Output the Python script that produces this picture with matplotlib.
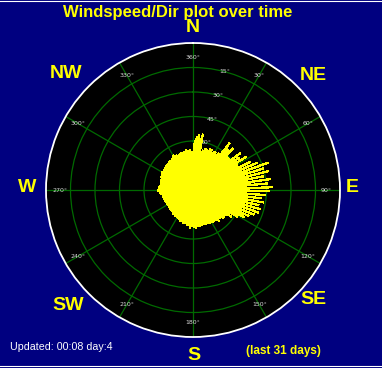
import numpy as np
import matplotlib.pyplot as plt

# wind readings, direction in degrees (from N, clockwise) and speed
wind_dir = [0, 3, 6, 9, 12, 15, 18, 21, 24, 27, 30, 33,
            36, 39, 42, 45, 48, 51, 54, 57, 60, 63, 66, 69,
            72, 75, 78, 81, 84, 87, 90, 93, 96, 99, 102, 105,
            108, 111, 114, 117, 120, 123, 126, 129, 132, 135, 138, 141,
            144, 147, 150, 153, 156, 159, 162, 165, 168, 171, 174, 177,
            180, 183, 186, 189, 192, 195, 198, 201, 204, 207, 210, 213,
            216, 219, 222, 225, 228, 231, 234, 237, 240, 243, 246, 249,
            252, 255, 258, 261, 264, 267, 270, 273, 276, 279, 282, 285,
            288, 291, 294, 297, 300, 303, 306, 309, 312, 315, 318, 321,
            324, 327, 330, 333, 336, 339, 342, 345, 348, 351, 354, 357]
wind_speed = [7.8, 8.0, 7.6, 8.2, 7.9, 8.4, 8.8, 8.3, 9.1, 8.6, 9.0, 8.7,
              9.2, 8.8, 9.6, 9.1, 9.8, 9.4, 10.2, 9.6, 10.4, 9.9, 10.8, 10.2,
              11.2, 10.6, 11.5, 10.9, 11.7, 11.0, 11.4, 10.9, 11.2, 10.6, 11.0, 10.4,
              10.6, 9.8, 10.1, 9.3, 9.4, 8.8, 8.6, 8.3, 8.4, 8.0, 7.9, 7.8,
              7.7, 7.8, 7.4, 7.6, 7.3, 7.5, 7.2, 7.4, 7.1, 7.5, 7.3, 7.6,
              7.2, 7.4, 7.0, 7.3, 6.9, 7.1, 6.7, 6.9, 6.5, 6.6, 6.3, 6.5,
              6.1, 6.4, 6.0, 6.2, 5.9, 6.1, 5.8, 6.0, 5.9, 6.1, 5.8, 6.2,
              6.0, 6.3, 6.1, 6.4, 6.6, 6.9, 6.6, 7.1, 6.8, 6.5, 6.7, 6.6,
              6.9, 6.8, 7.1, 6.9, 7.2, 7.0, 7.3, 7.1, 7.4, 7.2, 7.5, 7.6,
              7.4, 7.8, 7.6, 7.9, 7.7, 7.8, 8.0, 7.7, 8.1, 7.9, 8.2, 7.9]

# stronger gusts
gust_dir = [2, 4, 6, 8, 10, 38, 41, 44, 52, 55, 58, 64, 67, 70, 73, 76,
            79, 82, 85, 88, 91, 94, 97, 100, 103, 106, 109, 112, 115, 118,
            121, 125, 140, 175, 185, 270, 300, 330, 350]
gust_speed = [10.2, 11.0, 11.4, 10.6, 11.6, 12.2, 11.0, 11.8, 12.3, 11.5, 12.8,
              13.0, 14.2, 16.3, 15.0, 15.8, 14.6, 16.0, 15.2, 16.2, 15.6, 14.8,
              14.0, 14.6, 13.8, 14.3, 14.1, 13.4, 12.6, 11.8, 10.6, 9.6, 8.4,
              7.9, 7.8, 7.3, 7.4, 8.2, 8.4]

spoke_deg = [0, 30, 60, 90, 120, 150, 180, 210, 240, 270, 300, 330]
spoke_lbl = ['360°', '30°', '60°', '90°', '120°', '150°', '180°', '210°',
             '240°', '270°', '300°', '330°']
ring_r = [10, 15, 20, 25]
ring_lbl = ['60°', '45°', '30°', '15°']

compass = ['N', 'NE', 'E', 'SE', 'S', 'SW', 'W', 'NW']
compass_xy = [(193, 27), (313, 75), (352, 187), (313, 300),
              (194, 355), (68, 305), (27, 187), (66, 74)]

W, H = 382, 368
navy = '#000080'
grn = '#006a00'

fig = plt.figure(figsize=(W / 100, H / 100), dpi=100, facecolor=navy)

cx, cy, rad = 193, 190, 147
ax = fig.add_axes([(cx - rad) / W, 1 - (cy + rad) / H, 2 * rad / W, 2 * rad / H],
                  projection='polar', facecolor='black')
ax.set_theta_zero_location('N')
ax.set_theta_direction(-1)
ax.set_ylim(0, 30)
ax.set_thetagrids(spoke_deg, labels=[''] * len(spoke_deg))
ax.set_rgrids([5, 10, 15, 20, 25], labels=[''] * 5)
ax.grid(True, color=grn, lw=0.9)
ax.set_axisbelow(True)
ax.spines['polar'].set_color('white')
ax.spines['polar'].set_linewidth(1.3)

for d, t in zip(spoke_deg, spoke_lbl):
    ax.text(np.radians(d), 27.1, t, color='#d8d8d8', fontsize=4.5,
            ha='center', va='center', zorder=2)
for r, t in zip(ring_r, ring_lbl):
    ax.text(np.radians(15), r, t, color='#d8d8d8', fontsize=4.5,
            ha='center', va='center', zorder=2)

ax.vlines(np.radians(wind_dir), 0, wind_speed, colors='#ffff00', lw=2.0,
          antialiased=False, zorder=3)
ax.vlines(np.radians(gust_dir), 0, gust_speed, colors='#ffff00', lw=0.9,
          antialiased=False, zorder=3)

for t, (x, y) in zip(compass, compass_xy):
    fig.text(x / W, 1 - y / H, t, color='#ffff00', fontsize=14, fontweight='bold',
             family='Liberation Sans', ha='center', va='center')

fig.text(178 / W, 1 - 12 / H, 'Windspeed/Dir plot over time', color='#ffff00',
         fontsize=12, fontweight='bold', family='Liberation Sans',
         ha='center', va='center')
fig.text(10 / W, 1 - 347 / H, 'Updated: 00:08 day:4', color='white',
         fontsize=7.7, family='Liberation Sans', ha='left', va='center')
fig.text(283 / W, 1 - 351 / H, '(last 31 days)', color='#ffff00',
         fontsize=8.5, fontweight='bold', family='Liberation Sans',
         ha='center', va='center')

# window frame
fig.add_artist(plt.Line2D([0, 1], [1 - 0.5 / H, 1 - 0.5 / H], color='white', lw=0.8))
fig.add_artist(plt.Line2D([0, 1], [1 - 365.5 / H, 1 - 365.5 / H], color='white', lw=0.8))

fig.savefig('out.png', dpi=100, facecolor=navy)
